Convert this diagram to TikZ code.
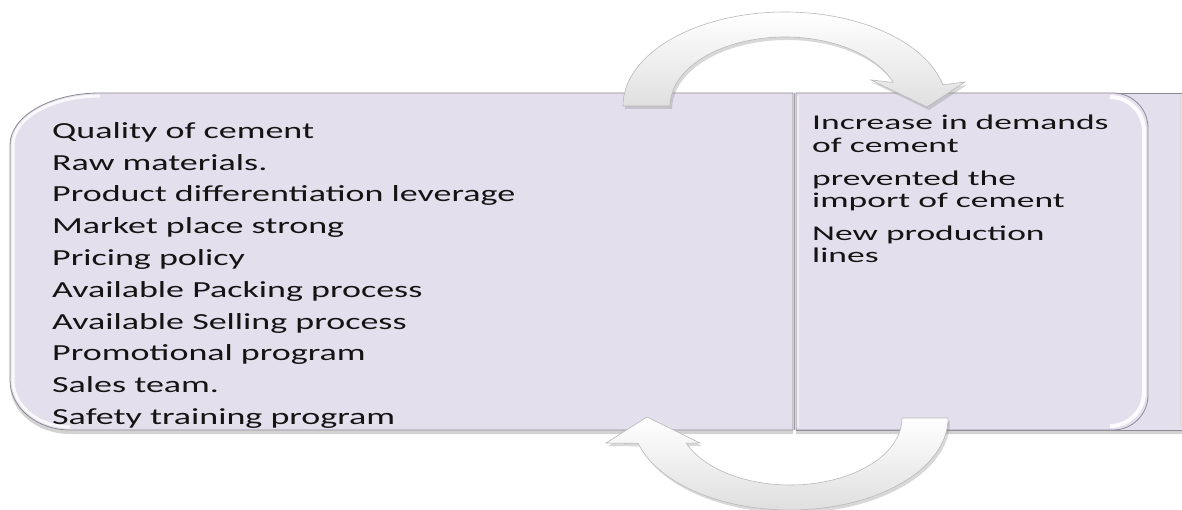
\documentclass[tikz,border=0pt]{standalone}
\usepackage{fontspec}
\setmainfont{Carlito}
\newfontfamily\lfont{Carlito}[FakeStretch=1.565]
\newfontfamily\rfont{Carlito}[FakeStretch=1.69]
\usetikzlibrary{shadows}
\definecolor{lav}{RGB}{228,223,236}
\definecolor{edgec}{RGB}{140,138,148}
\definecolor{txt}{RGB}{20,20,20}
\tikzset{
  boxshape/.style={fill=lav, draw=edgec, line width=0.8pt},
  boxshadow/.style={drop shadow={shadow xshift=0pt, shadow yshift=-4pt, opacity=0.35, fill=gray}},
  ltext/.style={anchor=base west, inner sep=0pt, text=txt, font=\lfont\fontsize{23pt}{23pt}\selectfont},
  rtext/.style={anchor=base west, inner sep=0pt, text=txt, font=\rfont\fontsize{21pt}{21pt}\selectfont},
  arrowshape/.style={top color=white, bottom color=gray!25, draw=gray!55, line width=0.6pt,
    drop shadow={shadow xshift=2pt, shadow yshift=-3pt, opacity=0.3, fill=gray}},
  highlight/.style={draw=white, line width=4pt, opacity=0.9}
}
\begin{document}
\begin{tikzpicture}[x=1pt,y=1pt]
\useasboundingbox[fill=white] (0,0) rectangle (1182,-510);

% right back strip
\path[fill=lav, draw=edgec, line width=0.8pt, boxshadow] (796,-93) -- (1182,-93) (1182,-430) -- (796,-430);
\path[fill=lav, boxshadow] (796,-93) rectangle (1182,-430);
\draw[edgec, line width=0.8pt] (796,-93) -- (1182,-93) (796,-430) -- (1182,-430);
\draw[gray!30, line width=1pt] (1180,-96) -- (1180,-427);
% right panel
\path[boxshape] (796,-93) -- (1113,-93) arc[start angle=90,end angle=0,radius=35]
  -- (1148,-395) arc[start angle=0,end angle=-90,radius=35] -- (796,-430) -- cycle;
\draw[highlight] (1110,-97) arc[start angle=90,end angle=0,radius=34]
  -- (1144,-392) arc[start angle=0,end angle=-90,radius=34];
\draw[gray!45, line width=1pt] (1148,-128) -- (1148,-395);

% left box
\path[boxshape, boxshadow] (793,-93) -- (100,-93)
  arc[start angle=90,end angle=180,x radius=90,y radius=52]
  -- (10,-380) arc[start angle=180,end angle=270,x radius=60,y radius=50]
  -- (793,-430) -- cycle;
\draw[highlight, line width=3pt, opacity=0.8] (100,-96)
  arc[start angle=90,end angle=180,x radius=87,y radius=49]
  -- (13,-380) arc[start angle=180,end angle=270,x radius=57,y radius=47];

% divider
\draw[gray!75, line width=1.6pt] (794.5,-93) -- (794.5,-430);
\draw[white, opacity=0.5, line width=1.5pt] (798,-96) -- (798,-427);

% top arrow
\path[arrowshape] (623,-106)
  arc[start angle=180,end angle=13,x radius=162,y radius=94]
  -- (965,-82) -- (927,-107) -- (871,-80) -- (893.1,-82.4)
  arc[start angle=20,end angle=180,x radius=115,y radius=69] -- cycle;

% bottom arrow
\path[arrowshape] (948,-418)
  arc[start angle=0,end angle=-164,x radius=158,y radius=92]
  -- (606,-443) -- (647,-417) -- (700,-443) -- (686.2,-443.1)
  arc[start angle=-158,end angle=0,x radius=112,y radius=67] -- cycle;

% left texts
\node[ltext] (l1) at (52,-138.3) {Quality of cement};
\node[ltext] (l2) at (52,-170.1) {Raw materials.};
\node[ltext] (l3) at (52,-201.9) {Product differentiation leverage};
\node[ltext] (l4) at (52,-233.7) {Market place strong};
\node[ltext] (l5) at (52,-265.5) {Pricing policy};
\node[ltext] (l6) at (52,-297.3) {Available Packing process};
\node[ltext] (l7) at (52,-329.1) {Available Selling process};
\node[ltext] (l8) at (52,-360.9) {Promotional program};
\node[ltext] (l9) at (52,-392.7) {Sales team.};
\node[ltext] (l10) at (52,-424.5) {Safety training program};

% right texts
\node[rtext] (r1) at (812,-130) {Increase in demands};
\node[rtext] (r2) at (812,-152.7) {of cement};
\node[rtext] (r3) at (812,-186) {prevented the};
\node[rtext] (r4) at (812,-207.7) {import of cement};
\node[rtext] (r5) at (812,-241) {New production};
\node[rtext] (r6) at (812,-262.7) {lines};
\end{tikzpicture}
\end{document}
